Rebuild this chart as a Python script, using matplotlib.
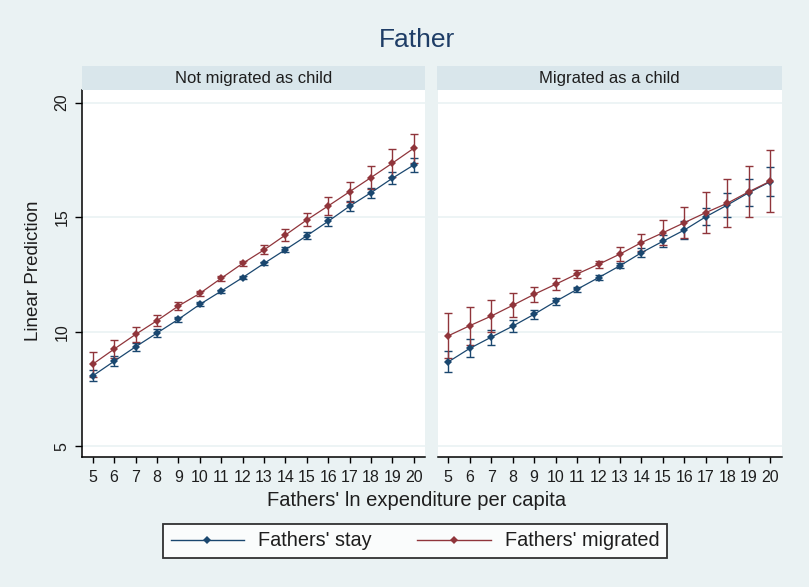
import matplotlib
matplotlib.use("Agg")
import matplotlib.pyplot as plt
from matplotlib.lines import Line2D
import numpy as np

plt.rcParams['font.family'] = ['Liberation Sans', 'DejaVu Sans']

# Fathers' ln expenditure per capita
x_vals = list(range(5, 21))

# Panel 1: not migrated as child
stay_nm = [8.07, 8.71, 9.34, 9.94, 10.54, 11.19, 11.77, 12.36, 12.98, 13.58, 14.19, 14.82, 15.48, 16.07, 16.70, 17.28]
stay_nm_ci = [0.24, 0.22, 0.18, 0.16, 0.12, 0.09, 0.07, 0.07, 0.08, 0.10, 0.14, 0.19, 0.21, 0.22, 0.27, 0.29]
migr_nm = [8.58, 9.24, 9.88, 10.48, 11.12, 11.67, 12.33, 12.98, 13.57, 14.22, 14.88, 15.49, 16.11, 16.73, 17.36, 18.01]
migr_nm_ci = [0.54, 0.41, 0.34, 0.25, 0.17, 0.12, 0.10, 0.10, 0.20, 0.28, 0.28, 0.38, 0.43, 0.51, 0.61, 0.64]

# Panel 2: migrated as a child
stay_m = [8.68, 9.27, 9.76, 10.24, 10.76, 11.32, 11.85, 12.36, 12.88, 13.45, 13.95, 14.44, 15.02, 15.53, 16.07, 16.55]
stay_m_ci = [0.46, 0.39, 0.33, 0.27, 0.20, 0.15, 0.10, 0.10, 0.12, 0.20, 0.27, 0.40, 0.38, 0.52, 0.59, 0.62]
migr_m = [9.82, 10.26, 10.68, 11.15, 11.63, 12.07, 12.52, 12.94, 13.39, 13.89, 14.32, 14.76, 15.20, 15.61, 16.11, 16.57]
migr_m_ci = [0.99, 0.83, 0.70, 0.52, 0.34, 0.26, 0.16, 0.15, 0.32, 0.38, 0.54, 0.67, 0.89, 1.06, 1.12, 1.35]

panel_titles = ["Not migrated as child", "Migrated as a child"]
series_labels = ["Fathers' stay", "Fathers' migrated"]
y_ticks = [5, 10, 15, 20]

BG = "#EAF2F3"
STRIP = "#D9E6EB"
GRID = "#EAF2F3"
BLUE = "#1A476F"
RED = "#90353B"
TXT = "#1E1E1E"

W, H = 809, 587
fig = plt.figure(figsize=(W / 100, H / 100), dpi=100, facecolor=BG)


def px_axes(x0, y0, x1, y1):
    return fig.add_axes([x0 / W, 1 - y1 / H, (x1 - x0) / W, (y1 - y0) / H])


panels = [
    (82, 425, stay_nm, stay_nm_ci, migr_nm, migr_nm_ci),
    (437.5, 781.5, stay_m, stay_m_ci, migr_m, migr_m_ci),
]

for i, (x0, x1, s, sci, m, mci) in enumerate(panels):
    ax = px_axes(x0, 90, x1, 457)
    ax.set_facecolor("white")
    ax.set_xlim(4.5, 20.52)
    ax.set_ylim(4.53, 20.55)
    for yt in y_ticks:
        ax.axhline(yt, color=GRID, lw=1.2, zorder=0)
    for vals, ci, col in [(s, sci, BLUE), (m, mci, RED)]:
        ax.errorbar(x_vals, vals, yerr=ci, fmt='none', ecolor=col,
                    elinewidth=1.0, capsize=3.0, capthick=1.0, zorder=3)
        ax.plot(x_vals, vals, color=col, lw=0.9, marker='D', markersize=4,
                markeredgewidth=0, zorder=4)
    ax.set_xticks(x_vals)
    ax.set_xticklabels([str(v) for v in x_vals], fontsize=11.5, color=TXT)
    ax.tick_params(axis='x', direction='out', length=4, width=1, pad=5)
    for sp in ['top', 'right']:
        ax.spines[sp].set_visible(False)
    ax.spines['bottom'].set_linewidth(1.1)
    if i == 0:
        ax.set_yticks(y_ticks)
        ax.set_yticklabels([str(v) for v in y_ticks], fontsize=11.5,
                           rotation=90, va='center', color=TXT)
        ax.tick_params(axis='y', direction='out', length=5, width=1, pad=4)
        ax.spines['left'].set_linewidth(1.1)
    else:
        ax.set_yticks([])
        ax.spines['left'].set_visible(False)

    # panel header strip
    sx = px_axes(x0 - 0.5, 66, x1, 90)
    sx.set_facecolor(STRIP)
    sx.set_xticks([])
    sx.set_yticks([])
    for sp in sx.spines.values():
        sp.set_visible(False)
    sx.text(0.5, 0.5, panel_titles[i], ha='center', va='center',
            fontsize=12, color=TXT, transform=sx.transAxes)

fig.text(417 / W, 1 - 40 / H, "Father", ha='center', va='center',
         fontsize=19, color="#1E3D66")
fig.text(33 / W, 1 - 271 / H, "Linear Prediction", ha='center', va='center',
         rotation=90, fontsize=13.5, color=TXT)
fig.text(417 / W, 1 - 500 / H, "Fathers' ln expenditure per capita",
         ha='center', va='center', fontsize=14.5, color=TXT)

handles = [Line2D([], [], color=BLUE, lw=1, marker='D', markersize=4.5, markeredgewidth=0),
           Line2D([], [], color=RED, lw=1, marker='D', markersize=4.5, markeredgewidth=0)]
leg = fig.legend(handles, series_labels, loc='center',
                 bbox_to_anchor=(415 / W, 1 - 541 / H), ncol=2, fontsize=14.3,
                 frameon=True, fancybox=False, edgecolor='black',
                 handlelength=3.7, columnspacing=2.3, handletextpad=0.7,
                 borderpad=0.4, labelcolor=TXT)
leg.get_frame().set_linewidth(1.3)

fig.savefig("out.png", dpi=100, facecolor=BG)
